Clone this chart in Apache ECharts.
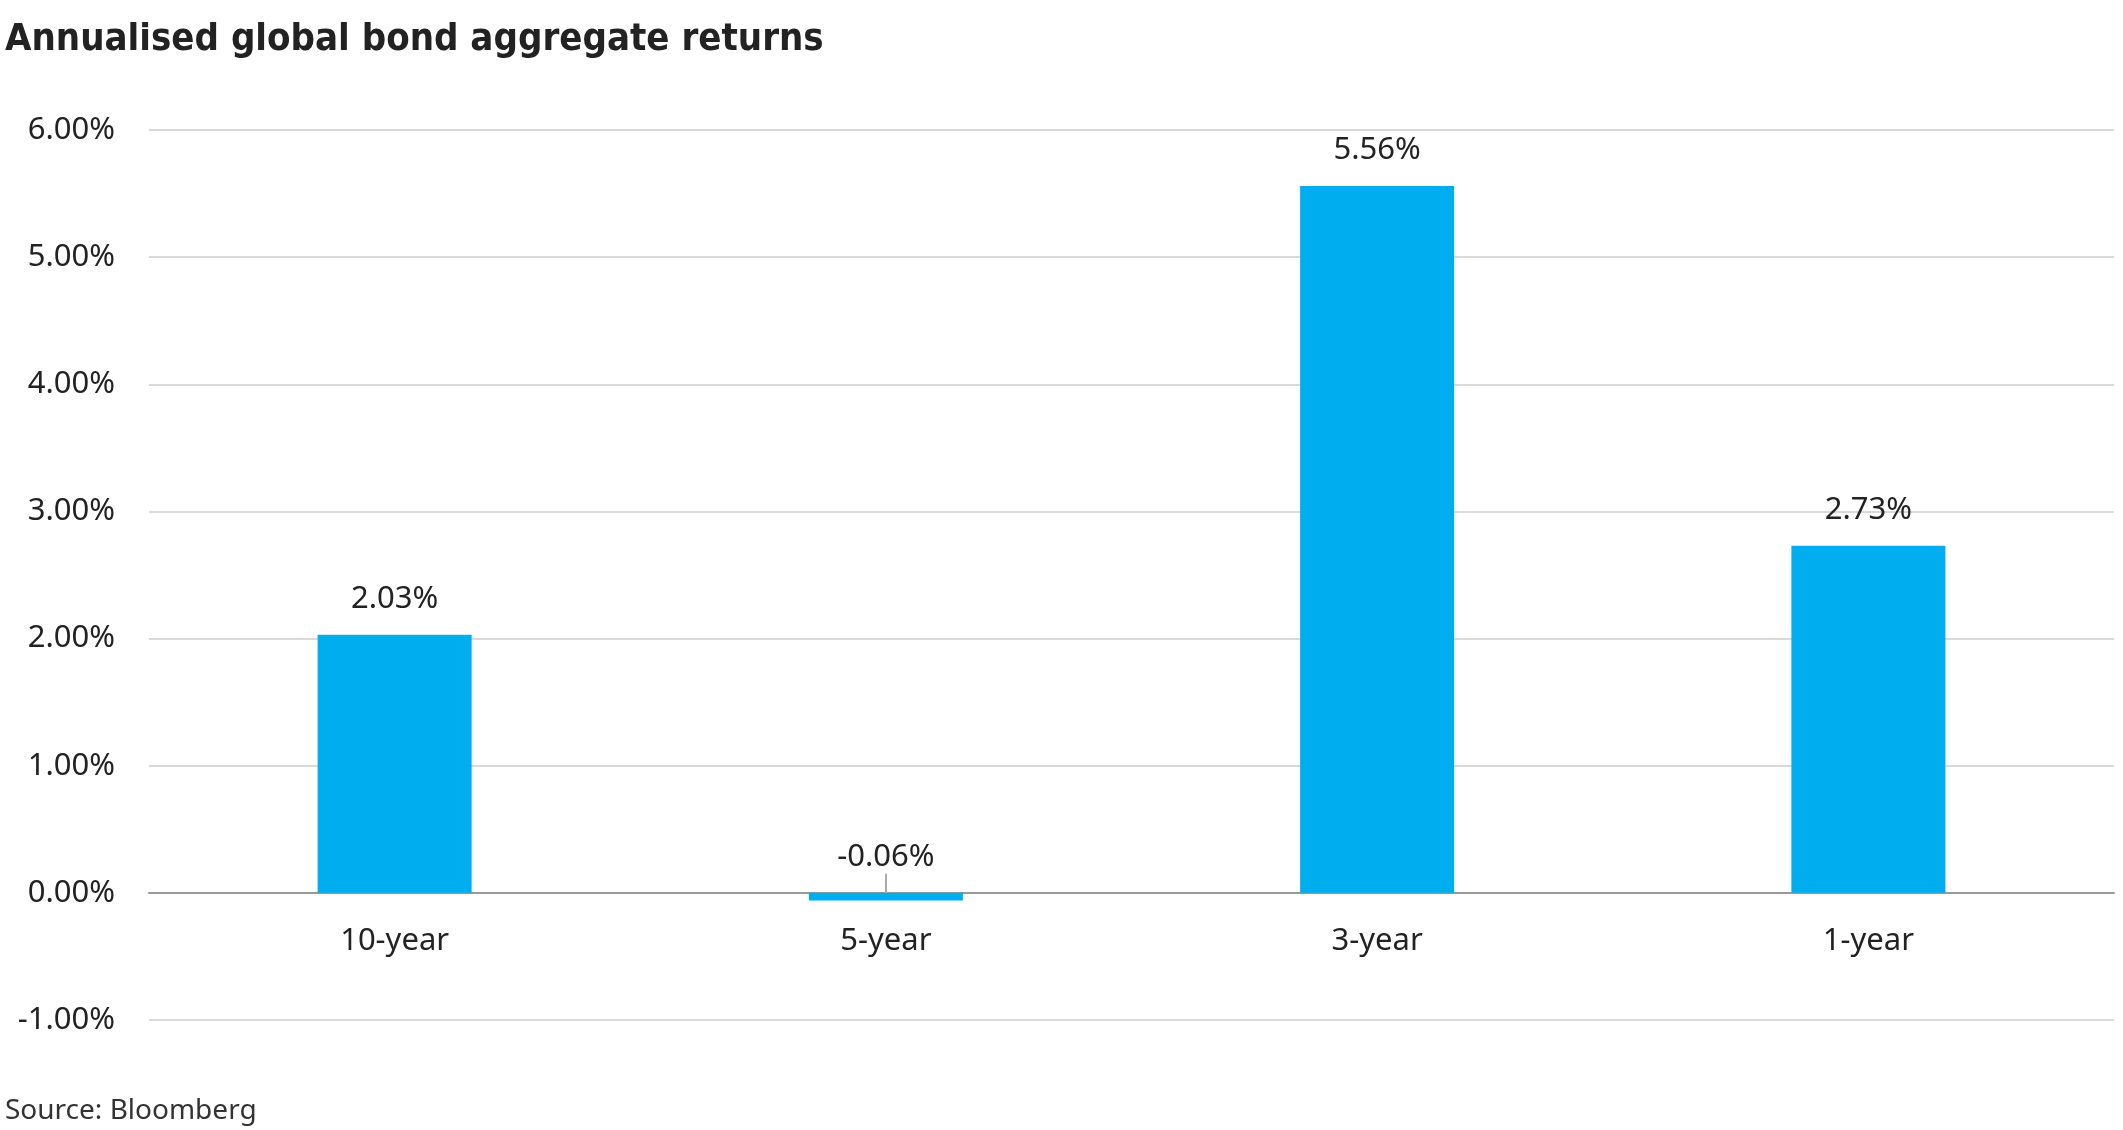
<!DOCTYPE html>
<html lang="en">
    <head>
        <meta charset="UTF-8" />
        <script type="text/javascript" src="https://cdn.jsdelivr.net/npm/echarts@6/dist/echarts.min.js"></script>
        <title>Annualised global bond aggregate returns</title>
        <style type="text/css">
            html, body {
                margin: 0;
                padding: 0;
                background: #fff;
            }
            #chart {
                width: 2123px;
                height: 1130px;
            }
        </style>
    </head>

    <body>
        <div id="chart"></div>
        <script type="text/javascript">
            const categories = ["10-year", "5-year", "3-year", "1-year"];
            const returns = [2.03, -0.06, 5.56, 2.73];
            const yMin = -1;
            const yMax = 6;

            const font = "'Noto Sans', sans-serif";
            let chart = echarts.init(document.getElementById("chart"));

            let option = {
                animation: false,
                title: [
                    {
                        text: "Annualised global bond aggregate returns",
                        left: 0,
                        top: 16,
                        textStyle: {
                            fontFamily: "'DejaVu Sans Condensed', 'DejaVu Sans', sans-serif",
                            fontWeight: "bold",
                            fontSize: 38,
                            color: "#222",
                        },
                    },
                    {
                        text: "Source: Bloomberg",
                        left: 0,
                        top: 1092,
                        textStyle: {
                            fontFamily: font,
                            fontWeight: "normal",
                            fontSize: 28,
                            color: "#333",
                        },
                    },
                ],
                grid: {
                    left: 149,
                    right: 9,
                    top: 130,
                    bottom: 110,
                },
                xAxis: {
                    type: "category",
                    data: categories,
                    axisLine: {
                        onZero: true,
                        lineStyle: { color: "#999", width: 2 },
                    },
                    axisTick: { show: false },
                    axisLabel: {
                        fontFamily: font,
                        fontSize: 31,
                        color: "#222",
                        // labels sit under the zero line, not under the grid bottom
                        margin: -94,
                    },
                },
                yAxis: {
                    type: "value",
                    min: yMin,
                    max: yMax,
                    interval: 1,
                    axisLine: { show: false },
                    axisTick: { show: false },
                    splitLine: {
                        lineStyle: { color: "#d9d9d9", width: 2 },
                    },
                    axisLabel: {
                        fontFamily: font,
                        fontSize: 31,
                        color: "#222",
                        margin: 34,
                        formatter: (v) => v.toFixed(2) + "%",
                    },
                },
                series: [
                    {
                        type: "bar",
                        data: returns,
                        barWidth: 154,
                        itemStyle: { color: "#00AEEF" },
                        label: {
                            show: true,
                            position: "top",
                            distance: 20,
                            fontFamily: font,
                            fontSize: 31,
                            color: "#222",
                            formatter: (p) => p.value.toFixed(2) + "%",
                        },
                        markLine: {
                            silent: true,
                            symbol: "none",
                            label: { show: false },
                            lineStyle: { color: "#aaa", width: 2, type: "solid" },
                            data: [
                                [
                                    { coord: [categories[1], 0] },
                                    { coord: [categories[1], 0.15] },
                                ],
                            ],
                        },
                    },
                ],
            };
            chart.setOption(option);
        </script>
    </body>
</html>
